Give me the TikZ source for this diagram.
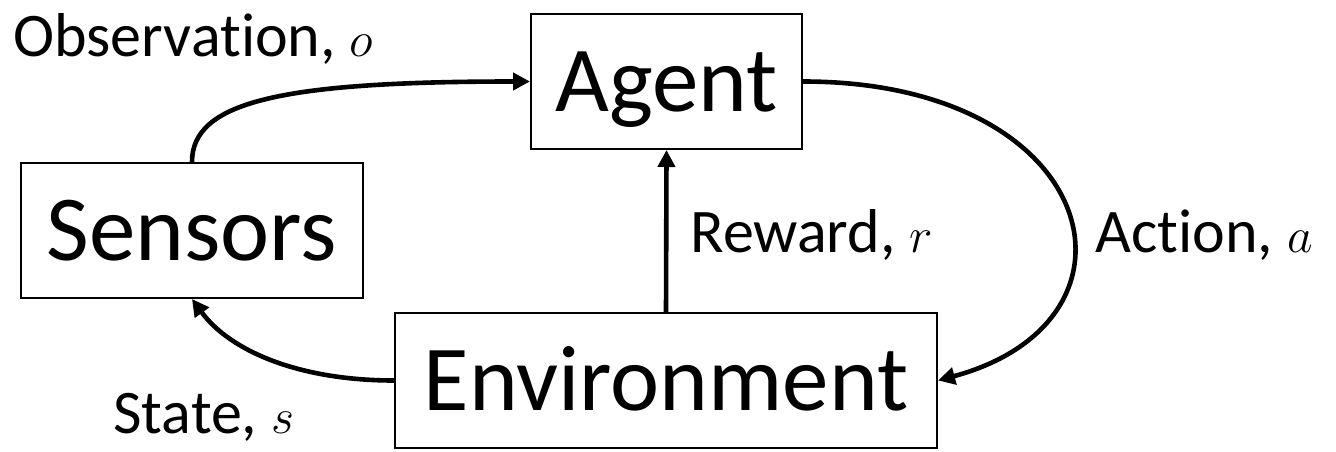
\documentclass[tikz,border=0pt]{standalone}
\usepackage{fontspec}
\setmainfont{Carlito}[Ligatures={NoCommon,NoContextual}]
\usetikzlibrary{arrows.meta}
\newcommand{\nl}{\kern0pt }
\begin{document}
\begin{tikzpicture}[x=0.5pt,y=0.5pt,
  box/.style={draw, line width=1pt, inner sep=0pt, text height=30pt, text depth=0pt,
    font=\fontsize{46.5pt}{50pt}\selectfont, minimum height=67.5pt},
  lbl/.style={inner sep=0pt, anchor=base west, font=\fontsize{31pt}{34pt}\selectfont},
  conn/.style={line width=2.3pt, -{Triangle[length=8.5pt,width=8.5pt]}}]
\useasboundingbox (0,0) rectangle (1336,451);
\node[box, minimum width=135.5pt] (agent) at (666.5,369.5) {Agent};
\node[box, minimum width=171pt] (sensors) at (192,220.5) {Sensors};
\node[box, minimum width=271pt] (env) at (666,70.5) {Environment};
\node[lbl] (obs) at (13,394) {Observat\nl ion, $o$};
\node[lbl] (rew) at (690,199) {Reward, $r$};
\node[lbl] (act) at (1095,199) {Act\nl ion, $a$};
\node[lbl] (st) at (113,18) {State, $s$};
\draw[conn] (sensors.north) .. controls +(0,30pt) and +(-125pt,0) .. (agent.west);
\draw[conn] (agent.east) .. controls +(149pt,0) and +(111pt,30pt) .. (env.east);
\draw[conn] (env.west) .. controls +(-47.5pt,0) and +(19pt,-26pt) .. (sensors.south);
\draw[conn] (env.north) -- (agent.south);
\end{tikzpicture}
\end{document}
